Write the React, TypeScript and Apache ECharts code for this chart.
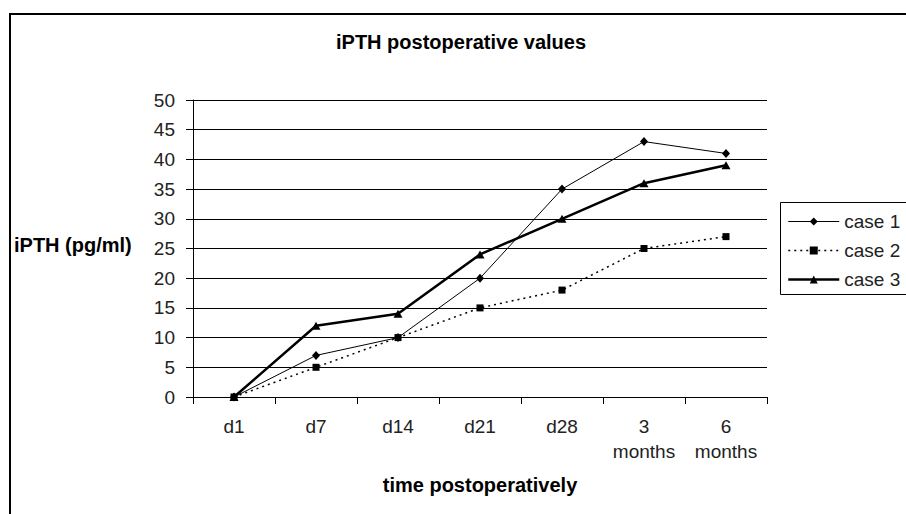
import React, { useEffect, useRef } from "react";
import * as echarts from "echarts";

const categories = ["d1", "d7", "d14", "d21", "d28", "3\nmonths", "6\nmonths"];
const case1 = [0, 7, 10, 20, 35, 43, 41];
const case2 = [0, 5, 10, 15, 18, 25, 27];
const case3 = [0, 12, 14, 24, 30, 36, 39];
const seriesNames = ["case 1", "case 2", "case 3"];
const yTicks = { min: 0, max: 50, interval: 5 };

const FONT = '"Liberation Sans", Arial, sans-serif';

export default function App() {
  const ref = useRef<HTMLDivElement>(null);
  useEffect(() => {
    if (!ref.current) return;
    const chart = echarts.init(ref.current, null, { renderer: "svg" });
    const lineStyles = [
      { color: "#000", width: 1 },
      { color: "#000", width: 1.5, type: [2, 4] },
      { color: "#000", width: 2.5 },
    ];
    chart.setOption({
      animation: false,
      backgroundColor: "#fff",
      textStyle: { fontFamily: FONT },
      title: {
        text: "iPTH postoperative values",
        left: 336,
        top: 32,
        padding: 0,
        textStyle: { fontFamily: FONT, fontSize: 20, fontWeight: "bold", color: "#000", lineHeight: 20 },
      },
      grid: { left: 193, top: 100, right: 139, bottom: 117, containLabel: false },
      xAxis: {
        type: "category",
        data: categories,
        boundaryGap: true,
        axisLine: { show: true, lineStyle: { color: "#000", width: 1 } },
        axisTick: { show: true, length: 7, alignWithLabel: false, lineStyle: { color: "#000" } },
        axisLabel: {
          interval: 0,
          margin: 17,
          fontFamily: FONT,
          fontSize: 19,
          lineHeight: 25,
          color: "#222",
        },
        splitLine: { show: false },
      },
      yAxis: {
        type: "value",
        min: yTicks.min,
        max: yTicks.max,
        interval: yTicks.interval,
        axisLine: { show: true, lineStyle: { color: "#000", width: 1 } },
        axisTick: { show: true, length: 7, lineStyle: { color: "#000" } },
        axisLabel: { margin: 18, fontFamily: FONT, fontSize: 19, color: "#222" },
        splitLine: { show: true, lineStyle: { color: "#000", width: 1 } },
      },
      legend: {
        orient: "vertical",
        left: 787,
        top: 212,
        padding: 0,
        itemWidth: 51,
        itemHeight: 10,
        itemGap: 10,
        data: seriesNames.map((name, i) => ({ name, lineStyle: lineStyles[i] })),
        textStyle: { fontFamily: FONT, fontSize: 19, color: "#222", lineHeight: 19, padding: [0, 0, 0, 0] },
      },
      graphic: [
        {
          type: "rect",
          shape: { x: 10, y: 14, width: 930, height: 530 },
          style: { fill: "none", stroke: "#000", lineWidth: 2 },
          silent: true,
          z: 100,
        },
        {
          type: "rect",
          shape: { x: 780.5, y: 202.5, width: 150, height: 92 },
          style: { fill: "none", stroke: "#000", lineWidth: 1 },
          silent: true,
          z: 100,
        },
        {
          type: "text",
          x: 14,
          y: 245,
          style: {
            text: "iPTH (pg/ml)",
            fontFamily: FONT,
            fontSize: 20,
            fontWeight: "bold",
            fill: "#000",
            verticalAlign: "middle",
            align: "left",
          },
        },
        {
          type: "text",
          x: 480,
          y: 485,
          style: {
            text: "time postoperatively",
            fontFamily: FONT,
            fontSize: 20,
            fontWeight: "bold",
            fill: "#000",
            verticalAlign: "middle",
            align: "center",
          },
        },
      ],
      series: [
        {
          name: seriesNames[0],
          type: "line",
          data: case1,
          symbol: "diamond",
          symbolSize: [8, 9],
          showAllSymbol: true,
          lineStyle: lineStyles[0],
          itemStyle: { color: "#000" },
        },
        {
          name: seriesNames[1],
          type: "line",
          data: case2,
          symbol: "rect",
          symbolSize: 7,
          showAllSymbol: true,
          lineStyle: lineStyles[1],
          itemStyle: { color: "#000" },
        },
        {
          name: seriesNames[2],
          type: "line",
          data: case3,
          symbol: "triangle",
          symbolSize: [9, 8],
          showAllSymbol: true,
          lineStyle: lineStyles[2],
          itemStyle: { color: "#000" },
        },
      ],
    });
    return () => chart.dispose();
  }, []);
  return (
    <div
      ref={ref}
      style={{ position: "absolute", left: 0, top: 0, width: 906, height: 514 }}
    />
  );
}
